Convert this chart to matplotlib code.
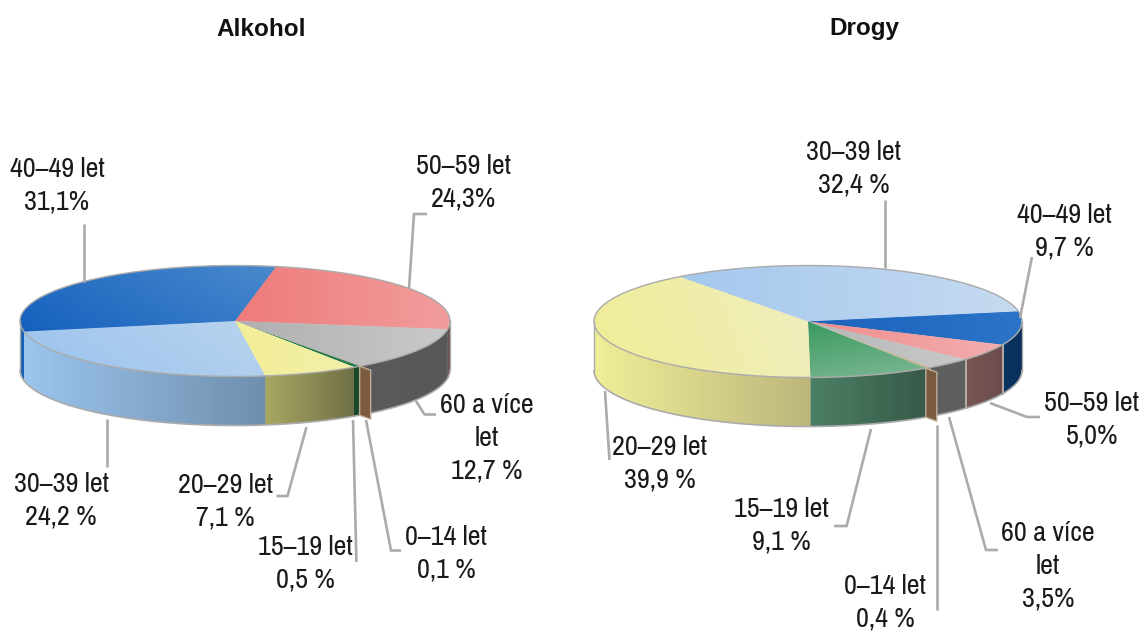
import numpy as np
import matplotlib
matplotlib.use("Agg")
import matplotlib.pyplot as plt
from matplotlib.colors import to_rgb
from matplotlib.patches import Polygon
import logging
logging.getLogger("matplotlib.font_manager").setLevel(logging.ERROR)

W, H = 1145, 631

# ---- data ----
alk_categories = ["50–59 let", "60 a více\nlet", "0–14 let", "15–19 let", "20–29 let", "30–39 let", "40–49 let"]
alk_values = [24.3, 12.7, 0.1, 0.5, 7.1, 24.2, 31.1]
alk_value_labels = ["24,3%", "12,7 %", "0,1 %", "0,5 %", "7,1 %", "24,2 %", "31,1%"]

drg_categories = ["30–39 let", "40–49 let", "50–59 let", "60 a více\nlet", "0–14 let", "15–19 let", "20–29 let"]
drg_values = [32.4, 9.7, 5.0, 3.5, 0.4, 9.1, 39.9]
drg_value_labels = ["32,4 %", "9,7 %", "5,0%", "3,5%", "0,4 %", "9,1 %", "39,9 %"]

# ---- style / layout ----
FONT = ["Pragati Narrow", "Liberation Sans", "DejaVu Sans"]
TITLE_FONT = ["Liberation Sans", "DejaVu Sans"]
LEADER = "#ABABAB"
RIM = "#ABABAB"

alk_top = [("#EE7B7B", "#F29C9C", 0), ("#AFAFAF", "#C9C9C9", 0), ("#7A5A3C", "#7A5A3C", 0),
           ("#1E7A46", "#1E7A46", 0), ("#F2EE98", "#F3EFA8", 0), ("#9AC3EE", "#BAD3EE", 20),
           ("#1560BE", "#4A8ACD", 25)]
alk_wall = [("#6A4F4F", "#6A4F4F"), ("#5A5A5A", "#585858"), ("#7A5A3C", "#7A5A3C"),
            ("#174A2C", "#174A2C"), ("#A8A863", "#707046"), ("#9CC5EE", "#6F8FAD"),
            ("#1560B2", "#1560B2")]
drg_top = [("#A4C8EE", "#C6DAF0", 0), ("#1C62BC", "#2B74C8", 0), ("#EF8C8C", "#F3AEAE", 0),
           ("#B5B5B5", "#C9C9C9", 0), ("#C9B490", "#C9B490", 0), ("#3A9A60", "#7DB894", -70),
           ("#EFEE96", "#EFEDBE", 10)]
drg_wall = [("#0B3564", "#0B3564"), ("#0B3564", "#0A2E58"), ("#7A5555", "#6A4C4C"),
            ("#5F5F5F", "#5F5F5F"), ("#7A5A3C", "#7A5A3C"), ("#4C8066", "#385A48"),
            ("#F0EE98", "#BDB67C")]

# pie geometry in pixels
alk_geom = dict(cx=235, cy=321, rx=215, ry=55.5, depth=49, start=79, walled=[])
drg_geom = dict(cx=808, cy=321.5, rx=214, ry=56, depth=49, start=127, walled=[0, 1, 2, 3])

alk_leaders = [[(427, 214), (414, 214), (409, 289)], [(416, 401), (424.5, 414.5), (436, 414.5)],
               [(366, 420), (391, 550.5), (401, 550.5)], [(353, 420), (356.4, 562)],
               [(306.5, 427), (287.5, 496), (276.5, 496)], [(107.4, 419), (107.4, 467)],
               [(83.7, 224), (83.7, 282)]]
drg_leaders = [[(885, 200), (885, 268)], [(1032, 257), (1020, 318)],
               [(990, 403), (1027, 417), (1040, 417)], [(949, 417), (986, 550), (998, 550)],
               [(937, 425), (937, 610)], [(871, 429), (846.6, 526), (834, 526)],
               [(605, 391), (609.5, 460)]]

# text anchor: centre x, centre y of the first line
alk_text_pos = [(464, 164), (487, 403), (446, 535), (305, 545), (225, 483), (61, 482), (57, 167)]
drg_text_pos = [(854, 150), (1064, 213), (1092, 401), (1048, 531), (885, 584), (781, 507), (660, 445)]
LINE_STEP = 32.5
FONT_PT = 22
titles = ["Alkohol", "Drogy"]
title_pos = [(261, 30), (864, 28)]

fig = plt.figure(figsize=(W / 100, H / 100), dpi=100, facecolor="white")


def gradient(ax, clip, pts, c0, c1, angle, z):
    x0, y0 = pts.min(axis=0)
    x1, y1 = pts.max(axis=0)
    a = np.deg2rad(angle)
    xs, ys = np.meshgrid(np.linspace(0, 1, 128), np.linspace(0, 1, 64))
    t = xs * np.cos(a) + ys * np.sin(a)
    t = (t - t.min()) / max(t.max() - t.min(), 1e-9)
    c0, c1 = np.array(to_rgb(c0)), np.array(to_rgb(c1))
    img = c0[None, None, :] * (1 - t[..., None]) + c1[None, None, :] * t[..., None]
    im = ax.imshow(img, extent=(x0, x1, y0, y1), origin="lower", aspect="auto",
                   zorder=z, interpolation="bilinear")
    im.set_clip_path(clip)


def draw_pie(values, geom, top, wall):
    cx, cy, rx, ry, depth = geom["cx"], geom["cy"], geom["rx"], geom["ry"], geom["depth"]
    d = depth / ry
    xm, ytop, ybot = 1.05, 1.1, 1 + d + 0.1
    ax = fig.add_axes([(cx - xm * rx) / W, 1 - (cy + ybot * ry) / H,
                       2 * xm * rx / W, (ytop + ybot) * ry / H])
    wedges, _ = ax.pie(values, startangle=geom["start"], counterclock=False, radius=1,
                       colors=[t[1] for t in top], wedgeprops=dict(linewidth=0), frame=True)
    ax.set_aspect("auto")
    for i, w in enumerate(wedges):
        # front wall of the slice
        lo, hi = max(w.theta1, -180), min(w.theta2, 0)
        if hi > lo:
            th = np.deg2rad(np.linspace(lo, hi, 80))
            up = np.column_stack([np.cos(th), np.sin(th)])
            dn = (up - [0, d])[::-1]
            pts = np.vstack([up, dn])
            poly = Polygon(pts, closed=True, fc=wall[i][0], ec="none", zorder=1)
            ax.add_patch(poly)
            gradient(ax, poly, pts, wall[i][0], wall[i][1], 0, 1.1)
            if i in geom["walled"]:
                for a in (lo, hi):
                    if -180 < a < 0:
                        ca, sa = np.cos(np.deg2rad(a)), np.sin(np.deg2rad(a))
                        ax.plot([ca, ca], [sa, sa - d], color="#B4ACA8", lw=1.2, zorder=1.5)
        # top surface
        w.set_zorder(2)
        th = np.deg2rad(np.linspace(w.theta1, w.theta2, 80))
        pts = np.vstack([[0, 0], np.column_stack([np.cos(th), np.sin(th)])])
        if values[i] >= 1:
            gradient(ax, w, pts, top[i][0], top[i][1], top[i][2], 2.1)
    # outline
    th = np.linspace(0, 2 * np.pi, 400)
    ax.plot(np.cos(th), np.sin(th), color=RIM, lw=1.0, zorder=3)
    th = np.linspace(-np.pi, 0, 200)
    ax.plot(np.cos(th), np.sin(th) - d, color=RIM, lw=1.2, zorder=3)
    ax.plot([-1, -1], [0, -d], color=RIM, lw=1.0, zorder=3)
    ax.plot([1, 1], [0, -d], color=RIM, lw=1.0, zorder=3)
    ax.set_xlim(-xm, xm)
    ax.set_ylim(-ybot, ytop)
    ax.axis("off")
    return ax, wedges, d


def cut_face(ax, wedge, geom, d, color):
    a = np.deg2rad(wedge.theta1)
    p = np.array([np.cos(a), np.sin(a)])
    off = np.array([11 / geom["rx"], -4 / geom["ry"]])
    pts = np.array([p, p + off, p + off - [0, d], p - [0, d]])
    ax.add_patch(Polygon(pts, closed=True, fc=color, ec="#BDAE98", lw=1.0, zorder=4))


ax1, w1, d1 = draw_pie(alk_values, alk_geom, alk_top, alk_wall)
cut_face(ax1, w1[2], alk_geom, d1, "#7D5B40")
ax2, w2, d2 = draw_pie(drg_values, drg_geom, drg_top, drg_wall)
cut_face(ax2, w2[4], drg_geom, d2, "#7A5A3C")

# overlay in pixel coordinates for leaders and text
ov = fig.add_axes([0, 0, 1, 1], facecolor="none")
ov.set_xlim(0, W)
ov.set_ylim(H, 0)
ov.axis("off")

for leaders in (alk_leaders, drg_leaders):
    for seg in leaders:
        xy = np.array(seg)
        ov.plot(xy[:, 0], xy[:, 1], color=LEADER, lw=1.9, solid_joinstyle="miter",
                solid_capstyle="butt", zorder=5)

for cats, vals, pos in ((alk_categories, alk_value_labels, alk_text_pos),
                        (drg_categories, drg_value_labels, drg_text_pos)):
    for c, v, (x, y) in zip(cats, vals, pos):
        for k, line in enumerate(c.split("\n") + [v]):
            ov.text(x, y + k * LINE_STEP, line, ha="center", va="center_baseline",
                    fontsize=FONT_PT, family=FONT, color="#1A1A1A", zorder=6)

for t, (x, y) in zip(titles, title_pos):
    ov.text(x, y, t, ha="center", va="center", fontsize=17.5, family=TITLE_FONT,
            fontweight="bold", color="#111111", zorder=6)

fig.savefig("out.png", dpi=100)
